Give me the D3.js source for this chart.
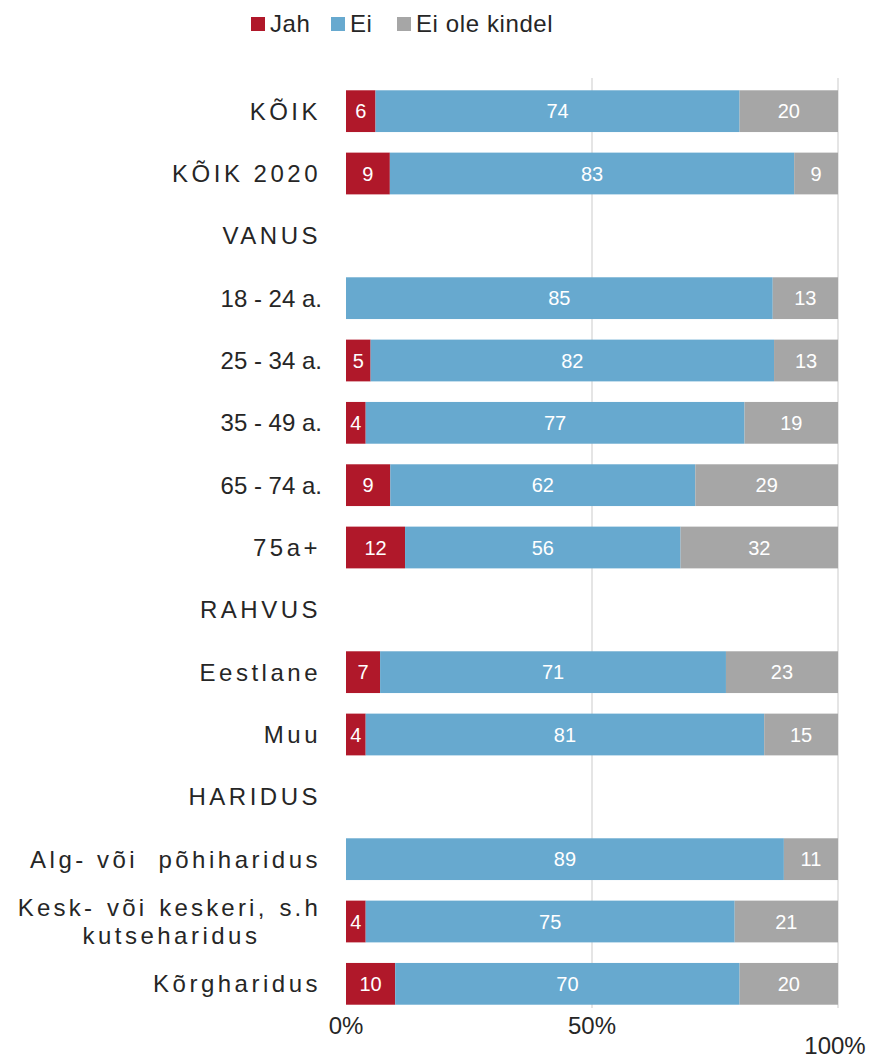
<!DOCTYPE html>
<html>
<head>
<meta charset="utf-8">
<script src="https://cdn.jsdelivr.net/npm/d3@7"></script>
<style>
  body { margin: 0; background: #fff; }
  svg text { font-family: "Liberation Sans", Arial, sans-serif; }
</style>
</head>
<body>
<svg id="chart" width="874" height="1058"></svg>
<script>
// rows (headers have no values)
var categories = ['KÕIK', 'KÕIK 2020', 'VANUS', '18 - 24 a.', '25 - 34 a.', '35 - 49 a.', '65 - 74 a.', '75a+',
  'RAHVUS', 'Eestlane', 'Muu', 'HARIDUS', 'Alg- või  põhiharidus', 'Kesk- või keskeri, s.h|kutseharidus', 'Kõrgharidus'];
var jah    = [6, 9, null, 0, 5, 4, 9, 12, null, 7, 4, null, 0, 4, 10];
var ei     = [74, 83, null, 85, 82, 77, 62, 56, null, 71, 81, null, 89, 75, 70];
var kindel = [20, 9, null, 13, 13, 19, 29, 32, null, 23, 15, null, 11, 21, 20];
var seriesNames = ['Jah', 'Ei', 'Ei ole kindel'];
var seriesColors = ['#B0182A', '#67A9CF', '#A6A6A6'];
var xTicks = [0, 0.5, 1];

var svg = d3.select('#chart');

var x = d3.scaleLinear().domain([0, 1]).range([346, 838]);
var y = d3.scaleBand().domain(categories).range([80, 1015]).paddingInner(0.33).paddingOuter(0.165);

var rows = categories.map(function (c, i) {
  return { cat: c, header: jah[i] === null, Jah: jah[i] || 0, Ei: ei[i] || 0, 'Ei ole kindel': kindel[i] || 0 };
});
var dataRows = rows.filter(function (r) { return !r.header; });

var stack = d3.stack().keys(seriesNames).offset(d3.stackOffsetExpand);
var layers = stack(dataRows);

// gridlines
svg.append('g').selectAll('line')
  .data([0.5, 1]).enter().append('line')
  .attr('x1', function (d) { return x(d); })
  .attr('x2', function (d) { return x(d); })
  .attr('y1', 78).attr('y2', 1008)
  .attr('stroke', '#DCDCDC').attr('stroke-width', 1.5);

// bars
var layerG = svg.append('g').selectAll('g')
  .data(layers).enter().append('g')
  .attr('fill', function (d, i) { return seriesColors[i]; });

layerG.selectAll('rect')
  .data(function (d) { return d; })
  .enter().append('rect')
  .attr('x', function (d) { return x(d[0]); })
  .attr('width', function (d) { return x(d[1]) - x(d[0]); })
  .attr('y', function (d) { return y(d.data.cat); })
  .attr('height', y.bandwidth());

// value labels
layerG.each(function (layer) {
  var key = layer.key;
  d3.select(this).selectAll('text')
    .data(layer.filter(function (d) { return d.data[key] > 0; }))
    .enter().append('text')
    .attr('x', function (d) { return (x(d[0]) + x(d[1])) / 2; })
    .attr('y', function (d) { return y(d.data.cat) + y.bandwidth() / 2; })
    .attr('dy', '0.36em')
    .attr('text-anchor', 'middle')
    .attr('fill', '#fff')
    .attr('font-size', 20)
    .text(function (d) { return d.data[key]; });
});

// category labels
var labelX = 321;
var catG = svg.append('g');
rows.forEach(function (r) {
  var lines = r.cat.split('|');
  var cy = y(r.cat) + y.bandwidth() / 2;
  var isAge = /^\d\d - /.test(r.cat);
  if (lines.length === 1) {
    catG.append('text')
      .attr('x', isAge ? 322 : labelX).attr('y', cy).attr('dy', '0.36em')
      .attr('text-anchor', 'end')
      .attr('font-size', 24).attr('letter-spacing', isAge ? 0 : 3.5)
      .style('white-space', 'pre')
      .attr('fill', '#262626')
      .text(lines[0]);
  } else {
    var t1 = catG.append('text')
      .attr('x', labelX).attr('y', cy - 14).attr('dy', '0.36em')
      .attr('text-anchor', 'end')
      .attr('font-size', 24).attr('letter-spacing', 3.2).attr('word-spacing', 2)
      .attr('fill', '#262626')
      .text(lines[0]);
    var bb = t1.node().getBBox();
    catG.append('text')
      .attr('x', bb.x + bb.width / 2 + 2).attr('y', cy + 14).attr('dy', '0.36em')
      .attr('text-anchor', 'middle')
      .attr('font-size', 24).attr('letter-spacing', 3.5)
      .attr('fill', '#262626')
      .text(lines[1]);
  }
});

// x axis labels (100% staggered lower)
svg.append('g').selectAll('text')
  .data(xTicks).enter().append('text')
  .attr('x', function (d, i) { return i === 2 ? x(d) - 3 : x(d); })
  .attr('y', function (d, i) { return i === 2 ? 1054 : 1034; })
  .attr('text-anchor', 'middle')
  .attr('font-size', 24)
  .attr('fill', '#262626')
  .text(d3.format('.0%'));

// legend
var legendX = [251, 331, 397];
var legend = svg.append('g').selectAll('g')
  .data(seriesNames).enter().append('g')
  .attr('transform', function (d, i) { return 'translate(' + legendX[i] + ',0)'; });
legend.append('rect')
  .attr('x', 0).attr('y', 17).attr('width', 14).attr('height', 14)
  .attr('fill', function (d, i) { return seriesColors[i]; });
legend.append('text')
  .attr('x', 19).attr('y', 32)
  .attr('font-size', 24).attr('letter-spacing', 0.6)
  .attr('fill', '#262626')
  .text(function (d) { return d; });
</script>
</body>
</html>
